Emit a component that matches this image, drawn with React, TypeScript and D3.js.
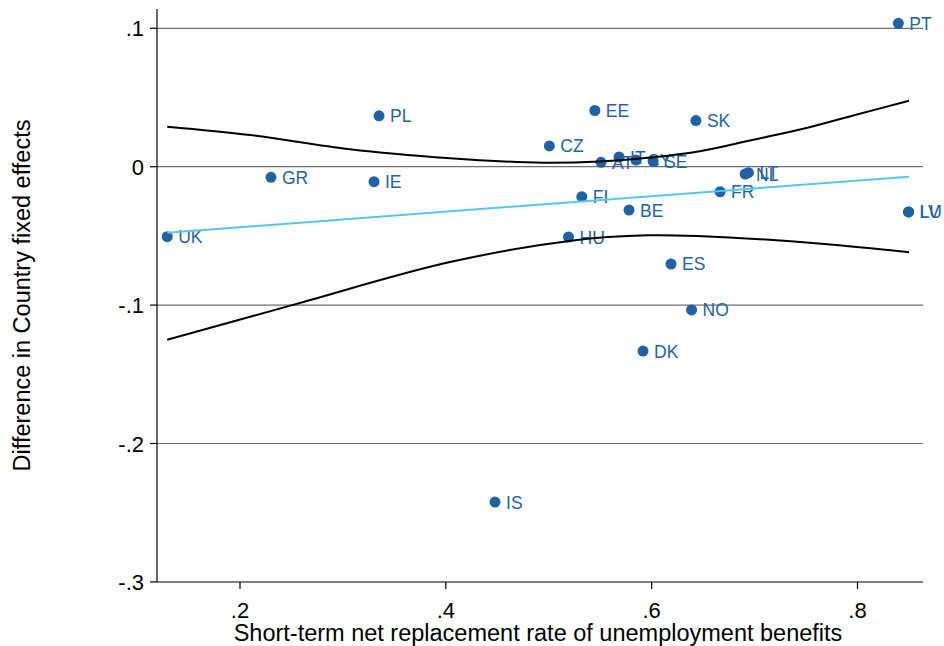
import React from "react";
import * as d3 from "d3";

const countries = ["PT","PL","EE","SK","CZ","AT","IT","CY","SE","GR","IE","NL","LT","FR","FI","BE","UK","HU","LU","LV","ES","NO","DK","IS"];
const replacementRate = [0.8397,0.3351,0.5448,0.643,0.5006,0.5508,0.5683,0.5848,0.6014,0.2301,0.3302,0.6908,0.694,0.6665,0.5321,0.578,0.1293,0.5192,0.8495,0.8497,0.6188,0.6388,0.5916,0.4478];
const fixedEffectDiff = [0.1036,0.0368,0.0406,0.0333,0.015,0.0032,0.007,0.0048,0.0041,-0.0077,-0.0108,-0.0053,-0.0043,-0.0181,-0.0217,-0.0313,-0.0506,-0.0508,-0.0327,-0.0327,-0.0703,-0.1035,-0.1332,-0.2423];

const fitX = [0.1293, 0.8501];
const fitY = [-0.0477, -0.00723];

const ciUpperX = [0.1293,0.2097,0.3069,0.4041,0.4689,0.5013,0.5499,0.5995,0.648,0.6976,0.7462,0.7958,0.8501];
const ciUpperY = [0.0289,0.0229,0.0126,0.0061,0.0034,0.0028,0.0038,0.0066,0.0113,0.0193,0.0272,0.037,0.0477];
const ciLowerX = [0.1293,0.2532,0.4029,0.5236,0.596,0.6443,0.7651,0.8501];
const ciLowerY = [-0.1251,-0.0995,-0.0691,-0.0533,-0.0496,-0.0501,-0.0556,-0.0618];

const xTicks = [0.2, 0.4, 0.6, 0.8];
const xTickLabels = [".2", ".4", ".6", ".8"];
const yTicks = [0.1, 0, -0.1, -0.2, -0.3];
const yTickLabels = [".1", "0", "-.1", "-.2", "-.3"];

const xTitle = "Short-term net replacement rate of unemployment benefits";
const yTitle = "Difference in Country fixed effects";

export default function App() {
  const W = 944, H = 646;
  const left = 157, right = 923, top = 9, bottom = 582;
  const x = d3.scaleLinear().domain([0.2, 0.8]).range([240, 857.5]);
  const y = d3.scaleLinear().domain([-0.3, 0.1]).range([581.9, 28.3]);
  const font = "'Liberation Sans', Arial, sans-serif";
  const dotColor = "#1d63a6";

  const line = d3.line<[number, number]>().x(d => x(d[0])).y(d => y(d[1])).curve(d3.curveCatmullRom.alpha(0.5));
  const upper = line(ciUpperX.map((v, i) => [v, ciUpperY[i]] as [number, number]));
  const lower = line(ciLowerX.map((v, i) => [v, ciLowerY[i]] as [number, number]));
  const fit = d3.line<[number, number]>().x(d => x(d[0])).y(d => y(d[1]))(fitX.map((v, i) => [v, fitY[i]] as [number, number]));

  return (
    <svg width={W} height={H} style={{ position: "absolute", left: 0, top: 0, background: "#fff" }} fontFamily={font}>
      <rect x={0} y={0} width={W} height={H} fill="#fff" />
      {yTicks.filter(t => t !== -0.3).map(t => (
        <line key={"g" + t} x1={left} x2={right} y1={y(t)} y2={y(t)} stroke="#6f6f6f" strokeWidth={1.2} />
      ))}
      <line x1={left} x2={left} y1={top} y2={bottom} stroke="#000" strokeWidth={1.2} />
      <line x1={left} x2={right} y1={bottom} y2={bottom} stroke="#000" strokeWidth={1.2} />
      {yTicks.map((t, i) => (
        <g key={"yt" + t}>
          <line x1={left - 7} x2={left} y1={y(t)} y2={y(t)} stroke="#000" strokeWidth={1.2} />
          <text x={left - 13} y={y(t) + 8} textAnchor="end" fontSize={22} fill="#000">{yTickLabels[i]}</text>
        </g>
      ))}
      {xTicks.map((t, i) => (
        <g key={"xt" + t}>
          <line x1={x(t)} x2={x(t)} y1={bottom} y2={bottom + 7} stroke="#000" strokeWidth={1.2} />
          <text x={x(t)} y={618} textAnchor="middle" fontSize={22} fill="#000">{xTickLabels[i]}</text>
        </g>
      ))}
      <text x={538} y={641} textAnchor="middle" fontSize={23.5} fill="#000">{xTitle}</text>
      <text transform={`translate(30,${(top + bottom) / 2}) rotate(-90)`} textAnchor="middle" fontSize={23.5} fill="#000">{yTitle}</text>
      {countries.map((c, i) => (
        <g key={c}>
          <circle cx={x(replacementRate[i])} cy={y(fixedEffectDiff[i])} r={5.5} fill={dotColor} />
          <text x={x(replacementRate[i]) + 11} y={y(fixedEffectDiff[i]) + 6.5} fontSize={17.5} fill={dotColor}>{c}</text>
        </g>
      ))}
      <path d={upper || ""} fill="none" stroke="#000" strokeWidth={2} />
      <path d={lower || ""} fill="none" stroke="#000" strokeWidth={2} />
      <path d={fit || ""} fill="none" stroke="#55c6f4" strokeWidth={2} />
    </svg>
  );
}
